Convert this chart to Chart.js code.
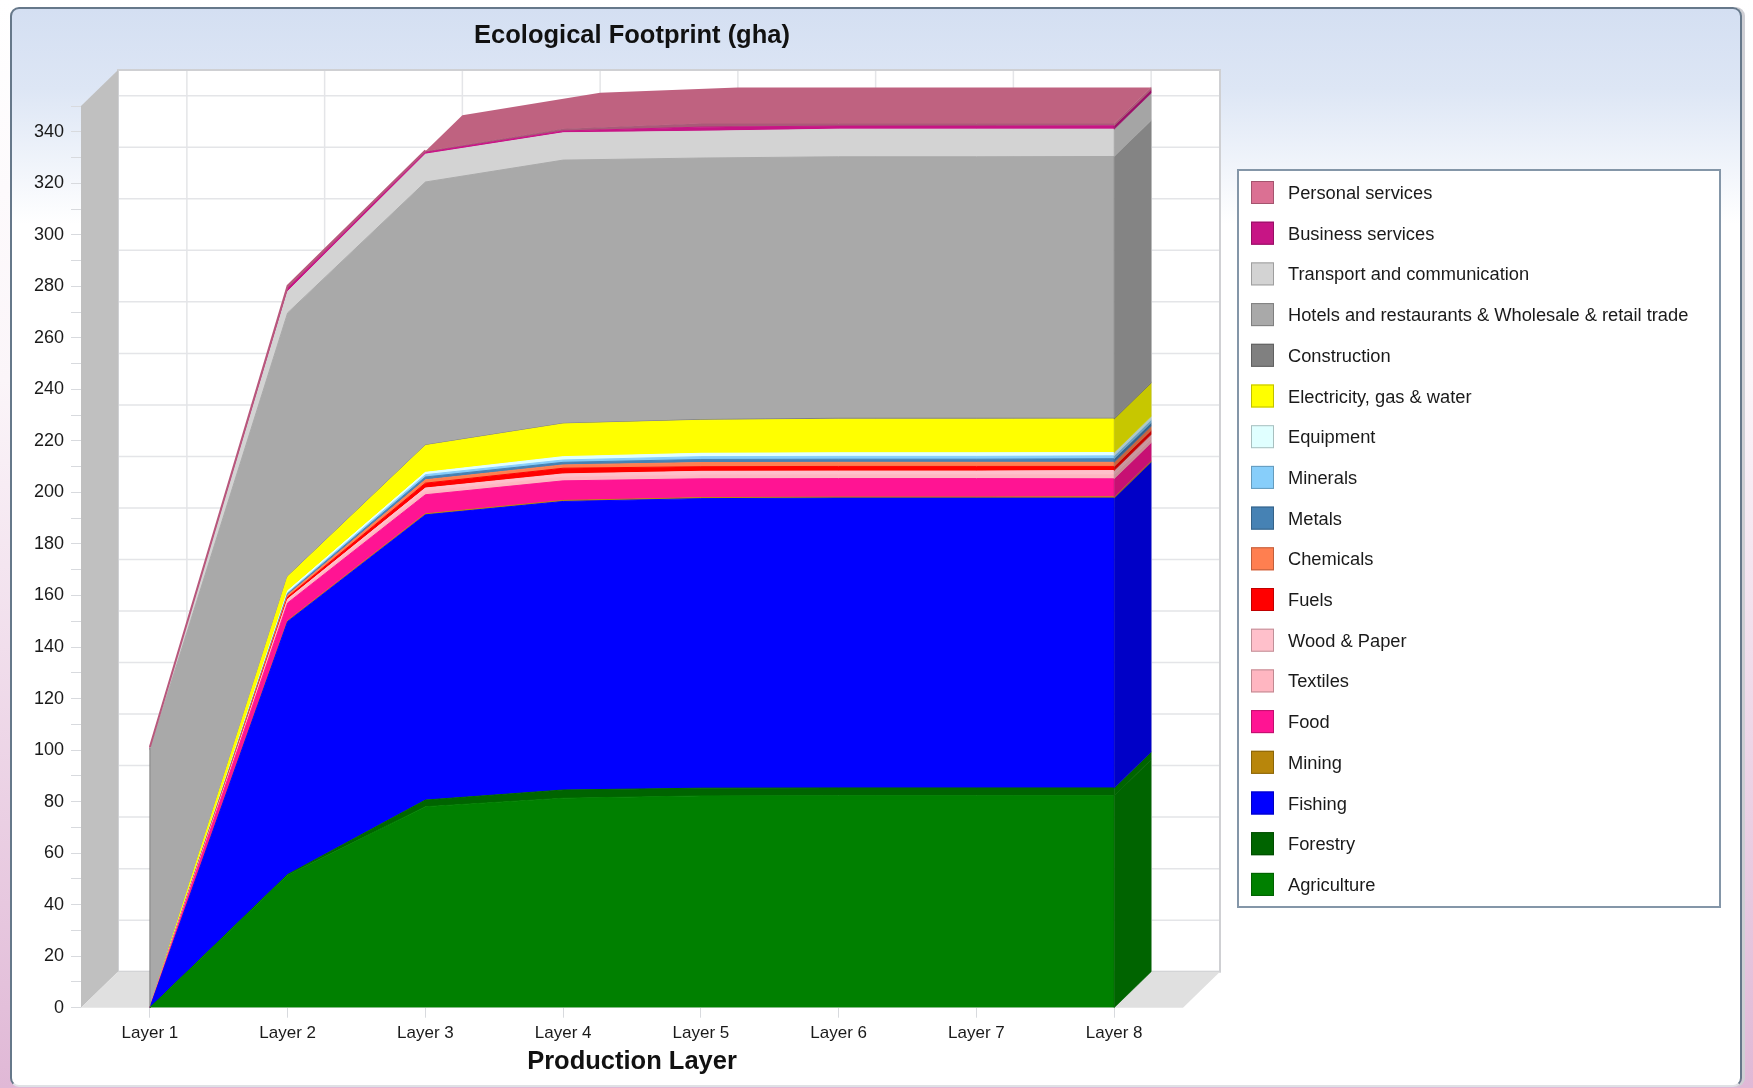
<!DOCTYPE html>
<html>
<head>
<meta charset="utf-8">
<title>Ecological Footprint (gha)</title>
<script src="https://cdn.jsdelivr.net/npm/chart.js@4"></script>
<style>
html, body { margin: 0; padding: 0; width: 1753px; height: 1088px; overflow: hidden;
    background: linear-gradient(to bottom, #ffffff 0%, #fbf5f9 35%, #e0b8d6 100%); }
#panel { position: absolute; left: 10px; top: 7px; width: 1732px; height: 1080px; box-sizing: border-box;
    border: 2px solid #66788a; border-bottom-color: #dfe1e5; border-radius: 9px; box-shadow: 3px 0 0 #cfcfd4;
    background: linear-gradient(to bottom, #d4dff2 0px, #dde6f5 80px, #ffffff 215px); }
canvas { position: absolute; left: 0; top: 0; }
</style>
</head>
<body>
<div id="panel"></div>
<canvas id="footprintChart" width="1753" height="1088"></canvas>
<script>
const layers = ['Layer 1', 'Layer 2', 'Layer 3', 'Layer 4', 'Layer 5', 'Layer 6', 'Layer 7', 'Layer 8'];

// bottom of the stack first
const agriculture = [0, 51.5, 78, 81.3, 82.2, 82.3, 82.3, 82.3];
const forestry = [0, 0.2, 2.6, 3.2, 3, 3, 3, 3];
const fishing = [0, 98.2, 110.7, 112, 112.4, 112.5, 112.5, 112.5];
const mining = [0, 0.3, 0.4, 0.4, 0.4, 0.4, 0.4, 0.5];
const food = [0, 6.9, 7.4, 7.6, 7.3, 7.2, 7.2, 7];
const textiles = [0, 0.8, 1.3, 1.4, 1.5, 1.5, 1.5, 1.6];
const woodPaper = [0, 0.7, 1.3, 1.3, 1.4, 1.4, 1.4, 1.6];
const fuels = [0, 0.8, 1.9, 2.2, 1.8, 1.8, 1.8, 1.6];
const chemicals = [0, 0.8, 1.3, 1.3, 1.6, 1.6, 1.6, 1.6];
const metals = [0, 0.5, 1.1, 1, 1.2, 1.2, 1.2, 1.4];
const minerals = [0, 0.4, 0.9, 0.9, 1.1, 1.1, 1.1, 1.1];
const equipment = [0, 0.7, 0.9, 1.3, 1.3, 1.4, 1.4, 1.3];
const electricity = [0, 5.5, 10.4, 12.7, 12.8, 13, 13, 13];
const construction = [0, 0.2, 0.2, 0.2, 0.3, 0.4, 0.4, 0.3];
const hotels = [100, 102.2, 102.1, 102.2, 101.5, 101.5, 101.5, 101.6];
const transport = [0.2, 8.3, 10.8, 10.6, 10.4, 10.7, 10.7, 10.6];
const business = [0.3, 1.2, 0.7, 0.7, 1.6, 1.2, 1.2, 1.3];
const personal = [0.3, 0.6, 0.4, 0.9, 1.4, 1, 1, 0.9];

const seriesNames = ['Agriculture', 'Forestry', 'Fishing', 'Mining', 'Food', 'Textiles', 'Wood & Paper', 'Fuels',
    'Chemicals', 'Metals', 'Minerals', 'Equipment', 'Electricity, gas & water', 'Construction',
    'Hotels and restaurants & Wholesale & retail trade', 'Transport and communication', 'Business services', 'Personal services'];
const seriesValues = [agriculture, forestry, fishing, mining, food, textiles, woodPaper, fuels, chemicals, metals,
    minerals, equipment, electricity, construction, hotels, transport, business, personal];
const seriesColors = ['#008000', '#006400', '#0000ff', '#b8860b', '#ff1493', '#ffb6c1', '#ffc0cb', '#ff0000',
    '#ff7f50', '#4682b4', '#87cefa', '#e0ffff', '#ffff00', '#808080', '#a9a9a9', '#d3d3d3', '#c71585', '#db7093'];

// depth of the fake 3D box, in pixels
const depthX = 37;
const depthY = -36;

function shade(hex, f) {
    const n = parseInt(hex.slice(1), 16);
    const r = Math.round((n >> 16) * f);
    const g = Math.round(((n >> 8) & 255) * f);
    const b = Math.round((n & 255) * f);
    return 'rgb(' + r + ',' + g + ',' + b + ')';
}

function poly(ctx, pts, fill) {
    ctx.beginPath();
    ctx.moveTo(pts[0][0], pts[0][1]);
    for (let i = 1; i < pts.length; i++) ctx.lineTo(pts[i][0], pts[i][1]);
    ctx.closePath();
    ctx.fillStyle = fill;
    ctx.fill();
}

// walls and floor behind the areas
const boxWalls = {
    id: 'boxWalls',
    beforeDatasetsDraw(chart) {
        const ctx = chart.ctx;
        const a = chart.chartArea;
        const x = chart.scales.x;
        const y = chart.scales.y;
        ctx.save();
        ctx.fillStyle = '#ffffff';
        ctx.fillRect(a.left + depthX, a.top + depthY, a.width, a.height);

        ctx.strokeStyle = '#e4e5e8';
        ctx.lineWidth = 1.5;
        ctx.beginPath();
        y.ticks.forEach(function (t) {
            if (t.value % 20 !== 0 || t.value === 0) return;
            const py = y.getPixelForValue(t.value) + depthY;
            ctx.moveTo(a.left + depthX, py);
            ctx.lineTo(a.right + depthX, py);
        });
        layers.forEach(function (l, i) {
            const px = x.getPixelForValue(i) + depthX;
            ctx.moveTo(px, a.top + depthY);
            ctx.lineTo(px, a.bottom + depthY);
        });
        ctx.stroke();

        ctx.strokeStyle = '#cfd0d3';
        ctx.lineWidth = 2;
        ctx.strokeRect(a.left + depthX, a.top + depthY, a.width, a.height);

        poly(ctx, [[a.left, a.top], [a.left + depthX, a.top + depthY], [a.left + depthX, a.bottom + depthY], [a.left, a.bottom]], '#c0c0c0');
        poly(ctx, [[a.left, a.bottom], [a.left + depthX, a.bottom + depthY], [a.right + depthX, a.bottom + depthY], [a.right, a.bottom]], '#e0e0e0');
        ctx.restore();
    },
    afterDatasetsDraw(chart) {
        const ctx = chart.ctx;
        const last = layers.length - 1;
        const zero = chart.scales.y.getPixelForValue(0);
        const topPoints = chart.getDatasetMeta(seriesNames.length - 1).data;
        ctx.save();

        // right hand side face, one band per series
        seriesNames.forEach(function (name, i) {
            const top = chart.getDatasetMeta(i).data[last];
            const bottomY = i === 0 ? zero : chart.getDatasetMeta(i - 1).data[last].y;
            const color = shade(seriesColors[i], i === 1 ? 1 : 0.78);
            poly(ctx, [[top.x, top.y], [top.x + depthX, top.y + depthY], [top.x + depthX, bottomY + depthY], [top.x, bottomY]], color);
            // close the hairline seam between neighbouring bands
            ctx.strokeStyle = color;
            ctx.lineWidth = 0.6;
            ctx.stroke();
        });

        // roof of the stack, starts at Layer 3 as in the original control
        const roof = topPoints.slice(2);
        const pts = roof.map(function (p) { return [p.x, p.y]; });
        roof.slice().reverse().forEach(function (p) { pts.push([p.x + depthX, p.y + depthY]); });
        poly(ctx, pts, '#bf6280');

        // before Layer 3 only a thin dusty edge is left of the roof
        ctx.strokeStyle = '#b8587c';
        ctx.lineWidth = 2;
        ctx.beginPath();
        ctx.moveTo(topPoints[0].x, topPoints[0].y - 1);
        ctx.lineTo(topPoints[1].x, topPoints[1].y - 1);
        ctx.lineTo(topPoints[2].x, topPoints[2].y - 1);
        ctx.stroke();

        // front left edge at Layer 1
        ctx.strokeStyle = '#808080';
        ctx.lineWidth = 1;
        ctx.beginPath();
        ctx.moveTo(topPoints[0].x, zero);
        ctx.lineTo(topPoints[0].x, topPoints[0].y);
        ctx.stroke();
        ctx.restore();
    }
};

// legend frame and swatches; the text comes from the Chart.js legend
const legendBox = {
    id: 'legendBox',
    afterLayout(chart) {
        const lg = chart.legend;
        const pad = lg.options.labels.padding;
        lg.left = 1251 - pad;
        lg.right = 1719;
        lg.top = 182.5 - pad;
        lg.bottom = 925;
    },
    beforeDraw(chart) {
        const ctx = chart.ctx;
        ctx.save();
        ctx.fillStyle = '#ffffff';
        ctx.fillRect(1238, 170, 482, 737);
        ctx.strokeStyle = '#8496a8';
        ctx.lineWidth = 2;
        ctx.strokeRect(1238, 170, 482, 737);
        ctx.restore();
    },
    afterDraw(chart) {
        const ctx = chart.ctx;
        const n = seriesNames.length;
        ctx.save();
        for (let i = 0; i < n; i++) {
            const color = seriesColors[n - 1 - i];
            const top = 181 + i * 40.7;
            ctx.fillStyle = color;
            ctx.fillRect(1251, top, 23, 23);
            ctx.strokeStyle = shade(color, 0.75);
            ctx.lineWidth = 1;
            ctx.strokeRect(1251.5, top + 0.5, 22, 22);
        }
        ctx.restore();
    }
};

const footprintChart = new Chart(document.getElementById('footprintChart').getContext('2d'), {
    type: 'line',
    data: {
        labels: layers,
        datasets: seriesNames.map(function (name, i) {
            // the thin top band reads darker than its legend swatch
            const color = i === seriesNames.length - 1 ? '#a95a78' : seriesColors[i];
            return {
                label: name,
                data: seriesValues[i],
                backgroundColor: color,
                borderColor: color,
                borderWidth: 1,
                pointRadius: 0,
                tension: 0,
                fill: i === 0 ? 'origin' : '-1'
            };
        })
    },
    plugins: [legendBox, boxWalls],
    options: {
        responsive: false,
        animation: false,
        layout: { padding: { left: 0, top: 0, right: 570, bottom: 10.3 } },
        plugins: {
            title: {
                display: true,
                text: 'Ecological Footprint (gha)',
                fullSize: false,
                color: '#111111',
                font: { family: '"Liberation Sans"', size: 25.5, weight: 'bold' },
                padding: { top: 21, bottom: 54.4 }
            },
            legend: {
                position: 'chartArea',
                align: 'start',
                reverse: true,
                labels: {
                    boxWidth: 27.85,
                    boxHeight: 23,
                    padding: 17.7,
                    color: '#1a1a1a',
                    font: { family: '"Liberation Sans"', size: 18.3 },
                    generateLabels(chart) {
                        return Chart.defaults.plugins.legend.labels.generateLabels(chart).map(function (item) {
                            item.fillStyle = 'transparent';
                            item.strokeStyle = 'transparent';
                            item.lineWidth = 0;
                            return item;
                        });
                    }
                }
            },
            tooltip: { enabled: false }
        },
        scales: {
            x: {
                offset: true,
                afterFit(scale) { scale.height = 70; },
                grid: { drawOnChartArea: false, tickLength: 10, color: '#d8dade' },
                border: { display: false },
                ticks: { color: '#1a1a1a', padding: 5, maxRotation: 0, font: { family: '"Liberation Sans"', size: 17 } },
                title: {
                    display: true,
                    text: 'Production Layer',
                    color: '#111111',
                    padding: 0,
                    font: { family: '"Liberation Sans"', size: 25.5, weight: 'bold' }
                }
            },
            y: {
                stacked: true,
                min: 0,
                max: 350,
                afterFit(scale) { scale.width = 81; },
                grid: { drawOnChartArea: false, tickLength: 10, color: '#d8dade' },
                border: { display: false },
                ticks: {
                    stepSize: 10,
                    autoSkip: false,
                    padding: 7,
                    color: '#1a1a1a',
                    font: { family: '"Liberation Sans"', size: 18 },
                    callback(value) { return value % 20 === 0 ? value : ''; }
                }
            }
        }
    }
});
</script>
</body>
</html>
